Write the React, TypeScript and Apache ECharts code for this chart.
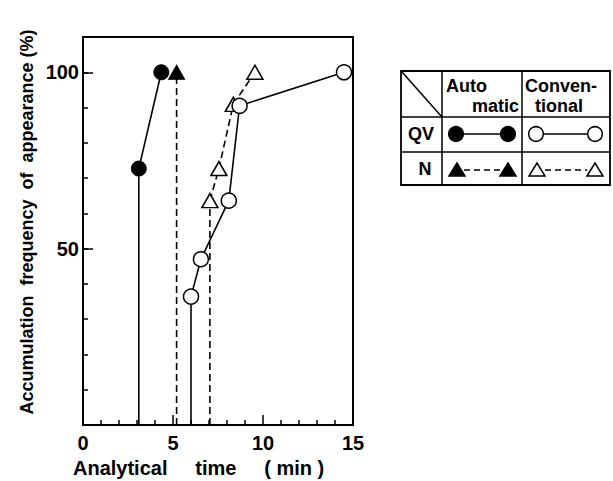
import React, { useEffect, useRef } from "react";
import * as echarts from "echarts";

// Data
const qvAutoX = [3.1, 4.35];
const qvAutoY = [72.7, 100];
const nAutoX = [5.2];
const nAutoY = [100];
const qvConvX = [6.0, 6.55, 8.1, 8.7, 14.5];
const qvConvY = [36.4, 47, 63.6, 90.5, 100];
const nConvX = [7.05, 7.55, 8.35, 9.55];
const nConvY = [63.6, 72.7, 90.9, 100];
const yTickLabels = [50, 100];

const FONT = "Liberation Sans";
const BLACK = "#000";

const pts = (xs: number[], ys: number[]) => xs.map((x, i) => [x, ys[i]]);
const drop = (xs: number[], ys: number[]) => [
  [xs[0], 0],
  [xs[0], ys[0]],
];

function legendTriangle(cx: number, cy: number, filled: boolean) {
  return {
    type: "polygon",
    shape: {
      points: [
        [cx - 8, cy + 6],
        [cx, cy - 7],
        [cx + 8, cy + 6],
      ],
    },
    style: { fill: filled ? BLACK : "#fff", stroke: BLACK, lineWidth: 1.5 },
  };
}
function legendCircle(cx: number, cy: number, filled: boolean) {
  return {
    type: "circle",
    shape: { cx, cy, r: 7.3 },
    style: { fill: filled ? BLACK : "#fff", stroke: BLACK, lineWidth: 1.5 },
  };
}
function gline(x1: number, y1: number, x2: number, y2: number, dashed = false) {
  return {
    type: "line",
    shape: { x1, y1, x2, y2 },
    style: { stroke: BLACK, lineWidth: 1.5, lineDash: dashed ? [6, 4] : null },
  };
}
function gtext(text: string, x: number, y: number, align: string, size = 18) {
  return {
    type: "text",
    x,
    y,
    style: {
      text,
      fill: BLACK,
      font: `bold ${size}px "${FONT}"`,
      align,
      verticalAlign: "middle",
    },
  };
}

export default function App() {
  const ref = useRef<HTMLDivElement>(null);
  useEffect(() => {
    if (!ref.current) return;
    const chart = echarts.init(ref.current, null, { renderer: "svg" });
    const solid = { color: BLACK, width: 1.6, type: "solid" as const };
    const dashed = { color: BLACK, width: 1.6, type: [7, 4] as any };
    const option: any = {
      animation: false,
      backgroundColor: "#fff",
      grid: {
        left: 83,
        right: 260,
        top: 37,
        bottom: 56,
        show: true,
        borderColor: BLACK,
        borderWidth: 2,
        backgroundColor: "transparent",
      },
      xAxis: {
        type: "value",
        min: 0,
        max: 15,
        interval: 5,
        axisLine: { show: true, lineStyle: { color: BLACK, width: 2 } },
        axisTick: { show: true, inside: true, length: 10, lineStyle: { color: BLACK, width: 1.5 } },
        minorTick: { show: true, splitNumber: 5, length: 5, lineStyle: { color: BLACK, width: 1.5 } },
        splitLine: { show: false },
        minorSplitLine: { show: false },
        axisLabel: { color: BLACK, fontSize: 20, fontFamily: FONT, fontWeight: "bold", margin: 8 },
      },
      yAxis: [
        {
          type: "value",
          min: 0,
          max: 110,
          interval: 50,
          axisLine: { show: true, lineStyle: { color: BLACK, width: 2 } },
          axisTick: { show: true, inside: true, length: 10, lineStyle: { color: BLACK, width: 1.5 } },
          splitLine: { show: false },
          axisLabel: {
            color: BLACK,
            fontSize: 20,
            fontFamily: FONT,
            fontWeight: "bold",
            margin: 4,
            showMaxLabel: false,
            formatter: (v: number) => (yTickLabels.includes(v) ? String(v) : ""),
          },
        },
        {
          type: "value",
          min: 0,
          max: 110,
          interval: 10,
          position: "left",
          axisLine: { show: false },
          axisTick: { show: true, inside: true, length: 5, lineStyle: { color: BLACK, width: 1.5 } },
          axisLabel: { show: false },
          splitLine: { show: false },
        },
      ],
      series: [
        { type: "line", data: drop(qvAutoX, qvAutoY), symbol: "none", lineStyle: solid, z: 2 },
        { type: "line", data: drop(nAutoX, nAutoY), symbol: "none", lineStyle: dashed, z: 2 },
        { type: "line", data: drop(qvConvX, qvConvY), symbol: "none", lineStyle: solid, z: 2 },
        { type: "line", data: drop(nConvX, nConvY), symbol: "none", lineStyle: dashed, z: 2 },
        {
          type: "line",
          name: "QV Automatic",
          data: pts(qvAutoX, qvAutoY),
          symbol: "circle",
          symbolSize: 15,
          showAllSymbol: true,
          lineStyle: solid,
          itemStyle: { color: BLACK, borderColor: BLACK, borderWidth: 1 },
          z: 3,
        },
        {
          type: "line",
          name: "N Automatic",
          data: pts(nAutoX, nAutoY),
          symbol: "triangle",
          symbolSize: [16, 14],
          showAllSymbol: true,
          lineStyle: dashed,
          itemStyle: { color: BLACK, borderColor: BLACK, borderWidth: 1 },
          z: 3,
        },
        {
          type: "line",
          name: "N Conventional",
          data: pts(nConvX, nConvY),
          symbol: "triangle",
          symbolSize: [16, 14],
          showAllSymbol: true,
          lineStyle: dashed,
          itemStyle: { color: "#fff", borderColor: BLACK, borderWidth: 1.5 },
          z: 3,
        },
        {
          type: "line",
          name: "QV Conventional",
          data: pts(qvConvX, qvConvY),
          symbol: "circle",
          symbolSize: 15,
          showAllSymbol: true,
          lineStyle: solid,
          itemStyle: { color: "#fff", borderColor: BLACK, borderWidth: 1.5 },
          z: 4,
        },
      ],
      graphic: [
        {
          type: "text",
          x: 27,
          y: 222,
          rotation: Math.PI / 2,
          style: {
            text: "Accumulation  frequency  of  appearance (%)",
            fill: BLACK,
            font: `bold 18px "${FONT}"`,
            align: "center",
            verticalAlign: "middle",
          },
        },
        {
          type: "text",
          x: 73,
          y: 468,
          style: {
            text: "Analytical     time     ( min )",
            fill: BLACK,
            font: `bold 20px "${FONT}"`,
            align: "left",
            verticalAlign: "middle",
          },
        },
        // legend table
        {
          type: "rect",
          shape: { x: 401, y: 71, width: 209, height: 114 },
          style: { fill: "none", stroke: BLACK, lineWidth: 1.8 },
        },
        gline(442, 71, 442, 185),
        gline(522, 71, 522, 185),
        gline(401, 117, 610, 117),
        gline(401, 152, 610, 152),
        gline(402, 72, 442, 117),
        gtext("Auto", 446, 86, "left"),
        gtext("matic", 519, 106, "right"),
        gtext("Conven-", 525, 86, "left"),
        gtext("tional", 535, 106, "left"),
        gtext("QV", 421, 134, "center"),
        gtext("N", 425, 169, "center"),
        gline(463, 134, 501, 134),
        legendCircle(456, 134, true),
        legendCircle(508, 134, true),
        gline(543, 134, 588, 134),
        legendCircle(536, 134, false),
        legendCircle(595, 134, false),
        gline(464, 170, 501, 170, true),
        legendTriangle(457, 170, true),
        legendTriangle(508, 170, true),
        gline(545, 170, 587, 170, true),
        legendTriangle(537, 170, false),
        legendTriangle(595, 170, false),
      ],
    };
    chart.setOption(option);
    return () => chart.dispose();
  }, []);
  return (
    <div
      ref={ref}
      style={{ position: "fixed", left: 0, top: 0, width: 613, height: 481, background: "#fff" }}
    />
  );
}
